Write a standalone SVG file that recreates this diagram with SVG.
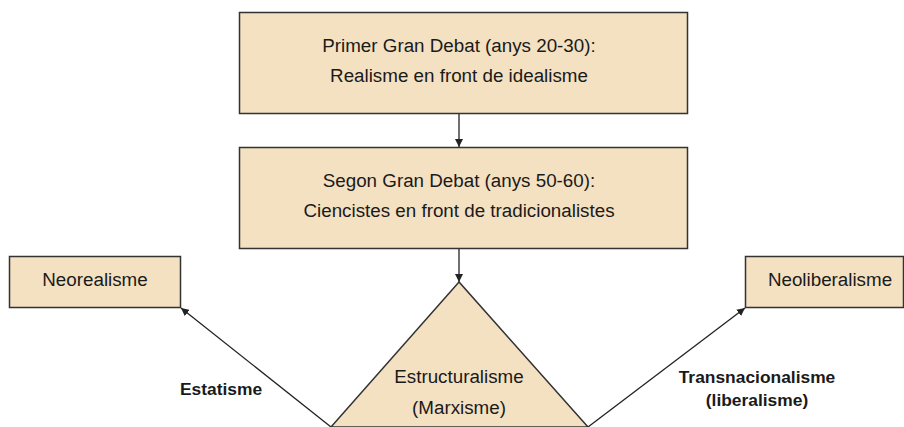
<svg xmlns="http://www.w3.org/2000/svg" width="904" height="427" viewBox="0 0 904 427">
<style>
.node{fill:#F4E1C1;stroke:#333;stroke-width:1.5}
.t{font-family:"Liberation Sans",Arial,sans-serif;font-size:18.8px;fill:#1a1a1a;text-anchor:middle}
.b{font-family:"Liberation Sans",Arial,sans-serif;font-size:17.4px;font-weight:bold;fill:#1a1a1a;text-anchor:middle}
.c{stroke:#222;stroke-width:1.3;fill:none;marker-end:url(#ah)}
</style>
<defs>
<marker id="ah" viewBox="0 0 10 10" refX="10" refY="5" markerWidth="8" markerHeight="8" markerUnits="userSpaceOnUse" orient="auto">
<path d="M0,0 L10,5 L0,10 z" fill="#222"/>
</marker>
</defs>
<rect width="904" height="427" fill="#fff"/>
<g id="connectors">
<line class="c" x1="459" y1="113" x2="459" y2="147"/>
<line class="c" x1="459" y1="248" x2="459" y2="282"/>
<line class="c" x1="331" y1="427" x2="181" y2="308"/>
<line class="c" x1="588" y1="427" x2="745" y2="308"/>
</g>
<g id="n1">
<rect class="node" x="239.5" y="12.5" width="448" height="101"/>
<text class="t" x="459" y="52">Primer Gran Debat (anys 20-30):</text>
<text class="t" x="459" y="82">Realisme en front de idealisme</text>
</g>
<g id="n2">
<rect class="node" x="239.5" y="147.5" width="448" height="101"/>
<text class="t" x="459" y="187">Segon Gran Debat (anys 50-60):</text>
<text class="t" x="459" y="217">Ciencistes en front de tradicionalistes</text>
</g>
<g id="n3">
<polygon class="node" points="459,282 331,427 588,427"/>
<text class="t" x="459" y="383">Estructuralisme</text>
<text class="t" x="459" y="414">(Marxisme)</text>
</g>
<g id="n4">
<rect class="node" x="9.5" y="256.5" width="171" height="51"/>
<text class="t" x="95" y="286">Neorealisme</text>
</g>
<g id="n5">
<rect class="node" x="745.5" y="256.5" width="158" height="51"/>
<text class="t" x="830" y="286">Neoliberalisme</text>
</g>
<g id="labels">
<text class="b" x="221" y="395">Estatisme</text>
<text class="b" x="757" y="383">Transnacionalisme</text>
<text class="b" x="757" y="406">(liberalisme)</text>
</g>
</svg>
